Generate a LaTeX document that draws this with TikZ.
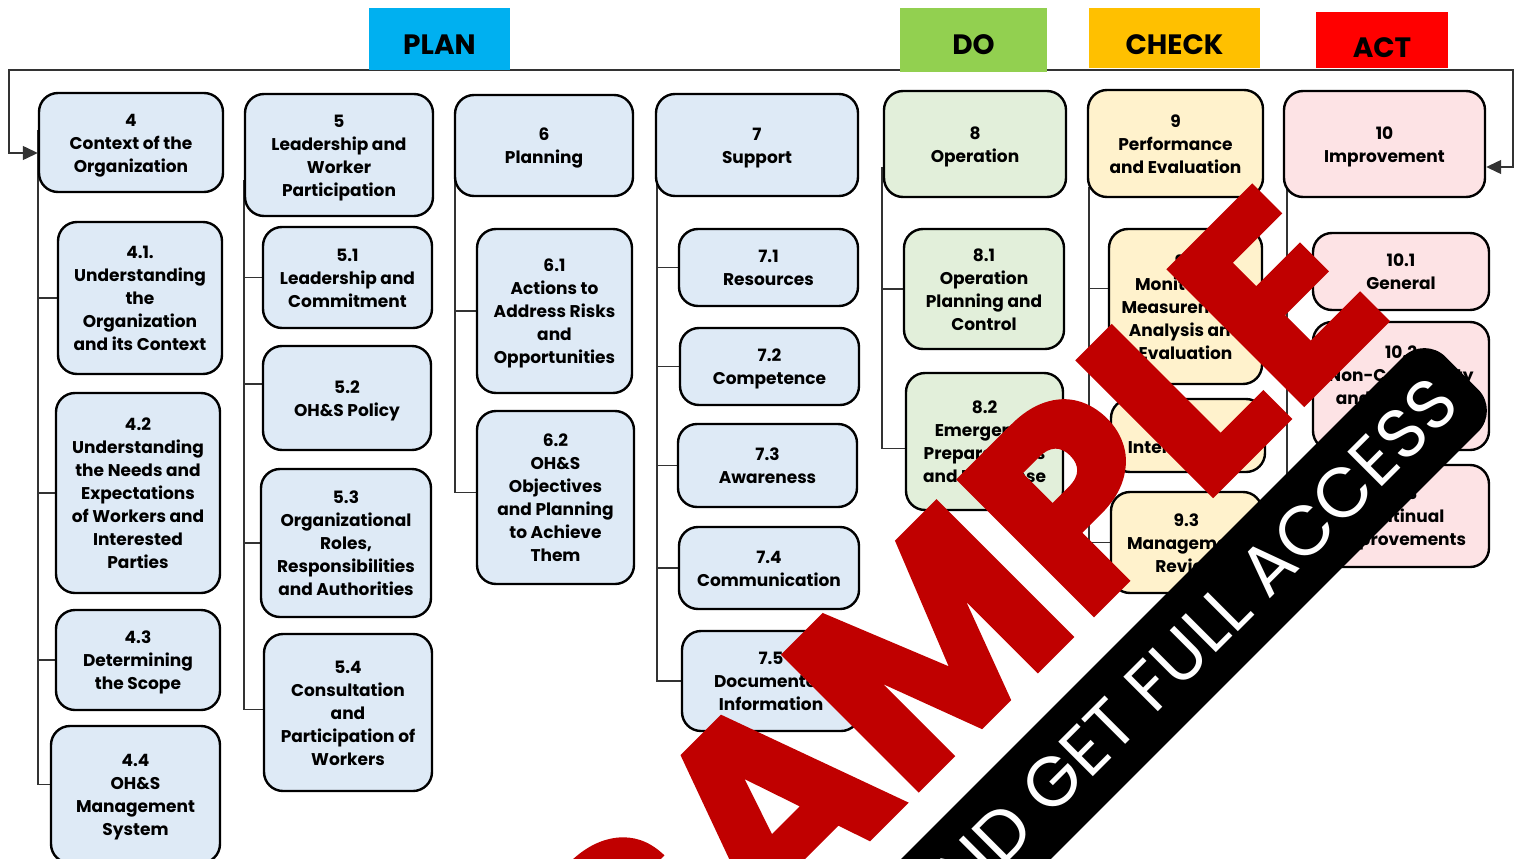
\documentclass[tikz,border=0pt]{standalone}
\usepackage{fontspec}
\setmainfont{Poppins}
\newfontfamily\wmfont{Poppins}[BoldFeatures={FakeBold=2}]
\usepackage{xcolor}
\usetikzlibrary{arrows.meta}
\usetikzlibrary{backgrounds}
\definecolor{planblue}{HTML}{00B0F0}
\definecolor{dogreen}{HTML}{92D050}
\definecolor{checkamber}{HTML}{FFC000}
\definecolor{actred}{HTML}{FF0000}
\definecolor{fillplan}{HTML}{DEEAF6}
\definecolor{filldo}{HTML}{E2EFDA}
\definecolor{fillcheck}{HTML}{FFF2CC}
\definecolor{fillact}{HTML}{FDE3E5}
\definecolor{wmred}{HTML}{C00000}
% lines of a clause box, first line pushed down a little
\newcommand{\boxlines}[1]{\begin{tabular}{@{}c@{}}\rule{0pt}{20pt}#1\end{tabular}}
\tikzstyle{clause}=[draw=black, line width=2.4pt, rounded corners=19pt, inner sep=0pt, font=\fontsize{17}{23}\selectfont\bfseries]
\tikzstyle{phasebox}=[inner sep=0pt]
\tikzstyle{phaselabel}=[inner sep=0pt, font=\fontsize{28}{30}\selectfont\bfseries]
\tikzstyle{spine}=[line width=1.3pt, draw=black!80]
\tikzstyle{cyclearrow}=[line width=1.3pt, draw=black!80, {Triangle[length=15pt,width=14pt]}-{Triangle[length=15pt,width=14pt]}]

\begin{document}
\begin{tikzpicture}[x=1pt,y=-1pt]
\useasboundingbox (0,0) rectangle (1515,859);
\clip (0,0) rectangle (1515,859);
% tops of the spines and corners of the frame
\coordinate (s4) at (38,130);
\coordinate (s5) at (244,180);
\coordinate (s6) at (455,180);
\coordinate (s7) at (657,180);
\coordinate (s8) at (882,167);
\coordinate (s9) at (1089,187);
\coordinate (s10) at (1287,187);
\coordinate (fl) at (9,70);
\coordinate (fr) at (1513,70);

% 4 Context
\node[clause, fill=fillplan, minimum width=184, minimum height=99] (c4) at (131,142.5) {\boxlines{4\\Context of the\\Organization}};
\node[clause, fill=fillplan, minimum width=164, minimum height=152] (c41) at (140,298) {\boxlines{4.1.\\Understanding\\the\\Organization\\and its Context}};
\node[clause, fill=fillplan, minimum width=164, minimum height=200] (c42) at (138,493) {\boxlines{4.2\\Understanding\\the Needs and\\Expectations\\of Workers and\\Interested\\Parties}};
\node[clause, fill=fillplan, minimum width=164, minimum height=100] (c43) at (138,660) {\boxlines{4.3\\Determining\\the Scope}};
\node[clause, fill=fillplan, minimum width=169, minimum height=137] (c44) at (135.5,794.5) {\boxlines{4.4\\OH\&S\\Management\\System}};

% 5 Leadership
\node[clause, fill=fillplan, minimum width=188, minimum height=122] (c5) at (339,155) {\boxlines{5\\Leadership and\\Worker\\Participation}};
\node[clause, fill=fillplan, minimum width=169, minimum height=101] (c51) at (347.5,277.5) {\boxlines{5.1\\Leadership and\\Commitment}};
\node[clause, fill=fillplan, minimum width=168, minimum height=104] (c52) at (347,398) {\boxlines{5.2\\OH\&S Policy}};
\node[clause, fill=fillplan, minimum width=170, minimum height=148] (c53) at (346,543) {\boxlines{5.3\\Organizational\\Roles,\\Responsibilities\\and Authorities}};
\node[clause, fill=fillplan, minimum width=168, minimum height=157] (c54) at (348,712.5) {\boxlines{5.4\\Consultation\\and\\Participation of\\Workers}};

% 6 Planning
\node[clause, fill=fillplan, minimum width=178, minimum height=101] (c6) at (544,145.5) {\boxlines{6\\Planning}};
\node[clause, fill=fillplan, minimum width=155, minimum height=164] (c61) at (554.5,311) {\boxlines{6.1\\Actions to\\Address Risks\\and\\Opportunities}};
\node[clause, fill=fillplan, minimum width=157, minimum height=173] (c62) at (555.5,497.5) {\boxlines{6.2\\OH\&S\\Objectives\\and Planning\\to Achieve\\Them}};

% 7 Support
\node[clause, fill=fillplan, minimum width=202, minimum height=102] (c7) at (757,145) {\boxlines{7\\Support}};
\node[clause, fill=fillplan, minimum width=179, minimum height=77] (c71) at (768.5,267.5) {\boxlines{7.1\\Resources}};
\node[clause, fill=fillplan, minimum width=179, minimum height=77] (c72) at (769.5,366.5) {\boxlines{7.2\\Competence}};
\node[clause, fill=fillplan, minimum width=179, minimum height=83] (c73) at (767.5,465.5) {\boxlines{7.3\\Awareness}};
\node[clause, fill=fillplan, minimum width=180, minimum height=82] (c74) at (769,568) {\boxlines{7.4\\Communication}};
\node[clause, fill=fillplan, minimum width=178, minimum height=100] (c75) at (771,681) {\boxlines{7.5\\Documented\\Information}};

% 8 Operation
\node[clause, fill=filldo, minimum width=182, minimum height=106] (c8) at (975,144) {\boxlines{8\\Operation}};
\node[clause, fill=filldo, minimum width=160, minimum height=120] (c81) at (984,289) {\boxlines{8.1\\Operation\\Planning and\\Control}};
\node[clause, fill=filldo, minimum width=157, minimum height=137] (c82) at (984.5,441.5) {\boxlines{8.2\\Emergency\\Preparedness\\and Response}};

% 9 Performance
\node[clause, fill=fillcheck, minimum width=175, minimum height=107] (c9) at (1175.5,143.5) {\boxlines{9\\Performance\\and Evaluation}};
\node[clause, fill=fillcheck, minimum width=153, minimum height=155] (c91) at (1185.5,306.5) {\boxlines{9.1\\Monitoring,\\Measurement,\\Analysis and\\Evaluation}};
\node[clause, fill=fillcheck, minimum width=154, minimum height=73] (c92) at (1188,435.5) {\boxlines{9.2\\Internal Audit}};
\node[clause, fill=fillcheck, minimum width=151, minimum height=101] (c93) at (1186.5,542.5) {\boxlines{9.3\\Management\\Review}};

% 10 Improvement
\node[clause, fill=fillact, minimum width=201, minimum height=106] (c10) at (1384.5,144) {\boxlines{10\\Improvement}};
\node[clause, fill=fillact, minimum width=176, minimum height=77] (c101) at (1401,271.5) {\boxlines{10.1\\General}};
\node[clause, fill=fillact, minimum width=176, minimum height=128] (c102) at (1401,386) {\boxlines{10.2\\Non-Conformity\\and Corrective\\Action}};
\node[clause, fill=fillact, minimum width=176, minimum height=102] (c103) at (1401,516) {\boxlines{10.3\\Continual\\Improvements}};

% PDCA headers
\node[phasebox, fill=planblue, minimum width=141, minimum height=62] (plan) at (439.5,39) {};
\node[phaselabel] (plantxt) at (439.5,45) {PLAN};
\node[phasebox, fill=dogreen, minimum width=147, minimum height=64] (do) at (973.5,40) {};
\node[phaselabel] (dotxt) at (973.5,45) {DO};
\node[phasebox, fill=checkamber, minimum width=171, minimum height=60] (check) at (1174.5,38) {};
\node[phaselabel] (checktxt) at (1174.5,45) {CHECK};
\node[phasebox, fill=actred, minimum width=132, minimum height=56] (act) at (1382,40) {};
\node[phaselabel] (acttxt) at (1382,48) {ACT};

\begin{pgfonlayer}{background}
\draw[cyclearrow] ([yshift=-10.5pt]c4.west) -| (fl) -- (fr) |- ([yshift=-23pt]c10.east);
\draw[spine] (s4) |- ([yshift=10pt]c44.west);
\foreach \b in {c41,c42,c43} \draw[spine] (s4 |- \b.west) -- (\b.west);
\draw[spine] (s5) |- ([yshift=3pt]c54.west);
\draw[spine] (s5 |- c51.west) -- (c51.west);
\draw[spine] (s5 |- c53.west) -- (c53.west);
\draw[spine] ([yshift=14pt]s5 |- c52.west) -- ([yshift=14pt]c52.west);
\draw[spine] (s6) |- ([yshift=5pt]c62.west);
\draw[spine] (s6 |- c61.west) -- (c61.west);
\draw[spine] (s7) |- (c75.west);
\foreach \b in {c71,c72,c73,c74} \draw[spine] (s7 |- \b.west) -- (\b.west);
\draw[spine] (s8) |- ([yshift=-7pt]c82.west);
\draw[spine] (s8 |- c81.west) -- (c81.west);
\draw[spine] (s9) |- (c93.west);
\draw[spine] ([yshift=18pt]s9 |- c91.west) -- ([yshift=18pt]c91.west);
\draw[spine] (s9 |- c92.west) -- (c92.west);
\draw[spine] (s10) |- (c103.west);
\foreach \b in {c101,c102} \draw[spine] (s10 |- \b.west) -- (\b.west);
\end{pgfonlayer}

% watermark
\node[rotate=45, text=wmred, inner sep=0pt, font=\fontsize{270}{270}\selectfont\wmfont\bfseries] (wm) at (955,618) {SAMPLE};
\node[rotate=45, fill=black, rounded corners=30pt, minimum width=1000, minimum height=106, anchor=east] (band) at (1462,373) {};
\node[rotate=45, text=white, inner sep=0pt, anchor=east, font=\fontsize{70}{70}\selectfont] (bandtxt) at (1445,390) {AND GET FULL ACCESS};
\end{tikzpicture}
\end{document}
